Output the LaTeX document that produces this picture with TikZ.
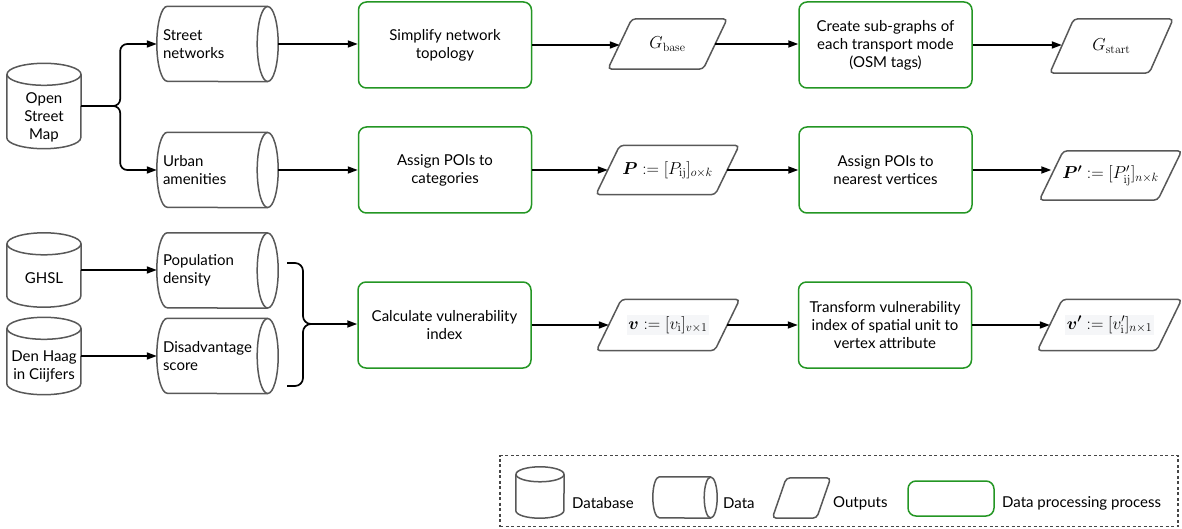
\documentclass[tikz,border=0pt]{standalone}
\usepackage{amsmath}
\usepackage[no-math]{fontspec}
\setmainfont{Lato}
\usetikzlibrary{calc,arrows.meta}
\definecolor{shapegrey}{RGB}{88,88,88}
\definecolor{procgreen}{RGB}{36,150,36}
\definecolor{formbg}{RGB}{245,246,248}
\newcommand{\formbox}[1]{{\setlength{\fboxsep}{1.5pt}\colorbox{formbg}{$#1$}}}
% the y axis points down, so angle 90 is the bottom of an ellipse
% vertical cylinder (database) round a node: name, x radius, cap y radius
\newcommand{\dbcylinder}[3]{%
  \draw[shapeline] ($(#1.north west)+(0,#3)$) -- ($(#1.south west)+(0,-#3)$)
    arc[start angle=180, end angle=0, x radius=#2, y radius=#3]
    -- ($(#1.north east)+(0,#3)$);
  \draw[shapeline] ($(#1.north)+(0,#3)$) ellipse[x radius=#2, y radius=#3];}
% horizontal cylinder (data) round a node: name, cap x radius, y radius
\newcommand{\datacylinder}[3]{%
  \draw[shapeline] ($(#1.north east)+(-#2,0)$) -- ($(#1.north west)+(#2,0)$)
    arc[start angle=270, end angle=90, x radius=#2, y radius=#3]
    -- ($(#1.south east)+(-#2,0)$);
  \draw[shapeline] ($(#1.east)+(-#2,0)$) ellipse[x radius=#2, y radius=#3];}
% parallelogram (output) round a node: name, half of the slant
\newcommand{\outshape}[2]{%
  \draw[shapeline, rounded corners=4pt] ($(#1.south west)+(-#2,0)$) -- ($(#1.north west)+(#2,0)$)
    -- ($(#1.north east)+(#2,0)$) -- ($(#1.south east)+(-#2,0)$) -- cycle;}
\begin{document}
\begin{tikzpicture}[x=1pt,y=-1pt,
  font=\fontsize{15}{18}\selectfont,
  shapeline/.style={draw=shapegrey, line width=1.5pt},
  database/.style={rectangle, inner sep=0pt},
  dblabel/.style={align=center, inner sep=0pt},
  datum/.style={rectangle, inner xsep=6pt, inner ysep=0pt, align=left,
    minimum width=121pt, minimum height=75pt, text width=109pt},
  process/.style={rectangle, rounded corners=8pt, draw=procgreen, line width=1.5pt,
    fill=white, align=center, inner sep=2pt},
  output/.style={rectangle, inner sep=0pt, font=\fontsize{17}{20}\selectfont},
  flow/.style={-{Triangle[length=10pt,width=7pt]}, line width=1.7pt, black},
  legendtext/.style={anchor=west, inner sep=0pt},
]
\useasboundingbox (0,0) rectangle (1182,529);

% ---- sources
\node[database, minimum width=74pt, minimum height=85pt] (osm) at (44,106) {};
\dbcylinder{osm}{37}{11}
\node[dblabel] (osmlabel) at (44,117) {Open\\Street\\Map};
\node[database, minimum width=74pt, minimum height=74pt] (ghsl) at (44,270) {};
\dbcylinder{ghsl}{37}{11}
\node[dblabel] (ghsllabel) at (44,278) {GHSL};
\node[database, minimum width=74pt, minimum height=77pt] (dhc) at (44,356) {};
\dbcylinder{dhc}{37}{11}
\node[dblabel] (dhclabel) at (44,366) {Den Haag\\in Ciijfers};

% ---- raw data
\node[datum] (streets) at (217.5,44) {Street\\networks};
\datacylinder{streets}{10.5}{37.5}
\node[datum] (urban) at (217.5,170) {Urban\\amenities};
\datacylinder{urban}{10.5}{37.5}
\node[datum] (pop) at (217.5,270.5) {Population\\density};
\datacylinder{pop}{10.5}{37.5}
\node[datum] (disadv) at (217.5,356) {Disadvantage\\score};
\datacylinder{disadv}{10.5}{37.5}

% ---- processing steps
\node[process, minimum width=173pt, minimum height=86pt] (simplify) at (445,45) {Simplify network\\topology};
\node[process, minimum width=173pt, minimum height=86pt] (assign) at (445,170) {Assign POIs to\\categories};
\node[process, minimum width=173pt, minimum height=86pt] (calc) at (444.5,325) {Calculate vulnerability\\index};
\node[process, minimum width=173pt, minimum height=86pt] (subgraph) at (885.5,45) {Create sub-graphs of\\each transport mode\\(OSM tags)};
\node[process, minimum width=173pt, minimum height=86pt] (nearest) at (885.5,170) {Assign POIs to\\nearest vertices};
\node[process, minimum width=173pt, minimum height=86pt] (transform) at (885,325) {Transform vulnerability\\index of spatial unit to\\vertex attribute};

% ---- outputs
\node[output, minimum width=95pt, minimum height=50pt] (gbase) at (667.5,44) {$G_{\mathrm{base}}$};
\outshape{gbase}{12}
\node[output, minimum width=99pt, minimum height=54pt] (gstart) at (1111.5,46) {$G_{\mathrm{start}}$};
\outshape{gstart}{12}
\node[output, minimum width=119pt, minimum height=49pt] (pois) at (667.5,170) {$\boldsymbol{P} := [P_{\mathrm{ij}}]_{o\times k}$};
\outshape{pois}{12}
\node[output, minimum width=118pt, minimum height=49pt] (poisn) at (1110.5,175.5) {$\boldsymbol{P'} := [P'_{\mathrm{ij}}]_{n\times k}$};
\outshape{poisn}{12}
\node[output, minimum width=118pt, minimum height=51pt] (vul) at (668,325) {\formbox{\boldsymbol{v} := [v_{\mathrm{i}}]_{v\times 1}}};
\outshape{vul}{12.5}
\node[output, minimum width=119pt, minimum height=51pt] (vuln) at (1109.5,325) {\formbox{\boldsymbol{v'} := [v'_{\mathrm{i}}]_{n\times 1}}};
\outshape{vuln}{12.5}

% ---- connectors
\draw[flow, rounded corners=7pt] (osm.east) -- ++(39,0) |- (streets.west);
\draw[flow, rounded corners=7pt] (osm.east) -- ++(39,0) |- (urban.west);
\draw[flow] (ghsl.east) -- (ghsl.east -| pop.west);
\draw[flow] (dhc.east) -- (dhc.east -| disadv.west);

\coordinate (bracetop) at (287,263);
\coordinate (bracebot) at (287,386);
\coordinate (bracetip) at (311,324);
\draw[line width=1.7pt, rounded corners=8pt] (bracetop) -- (303,263) -- (303,324) -- (bracetip);
\draw[line width=1.7pt, rounded corners=8pt] (bracebot) -- (303,386) -- (303,324) -- (bracetip);
\draw[flow] (bracetip) -- (bracetip -| calc.west);

\draw[flow] (streets.east) -- (streets.east -| simplify.west);
\draw[flow] (simplify.east) -- (simplify.east -| gbase.west);
\draw[flow] (gbase.east) -- (gbase.east -| subgraph.west);
\draw[flow] (subgraph.east) -- (subgraph.east -| gstart.west);

\draw[flow] (urban.east) -- (urban.east -| assign.west);
\draw[flow] (assign.east) -- (assign.east -| pois.west);
\draw[flow] (pois.east) -- (pois.east -| nearest.west);
\draw[flow] (nearest.east) -- (nearest.east -| poisn.west);

\draw[flow] (calc.east) -- (calc.east -| vul.west);
\draw[flow] (vul.east) -- (vul.east -| transform.west);
\draw[flow] (transform.east) -- (transform.east -| vuln.west);

% ---- legend
\node[draw=shapegrey!80!black, line width=1.1pt, dash pattern=on 3pt off 2.5pt,
      minimum width=678pt, minimum height=71pt, inner sep=0pt] (legend) at (839,491) {};
\node[database, minimum width=48pt, minimum height=51pt] (legdb) at (540,492.5) {};
\dbcylinder{legdb}{24}{7.5}
\node[legendtext] (legdbtext) at (572,503) {Database};
\node[database, minimum width=64pt, minimum height=41pt] (legdata) at (685,497.5) {};
\datacylinder{legdata}{6.5}{20.5}
\node[legendtext] (legdatatext) at (723,503) {Data};
\node[database, minimum width=44pt, minimum height=40pt] (legout) at (801.5,498) {};
\outshape{legout}{7}
\node[legendtext] (legouttext) at (833,503) {Outputs};
\node[process, minimum width=86pt, minimum height=35pt] (legproc) at (951,498.5) {};
\node[legendtext] (legproctext) at (1002,503) {Data processing process};
\end{tikzpicture}
\end{document}
